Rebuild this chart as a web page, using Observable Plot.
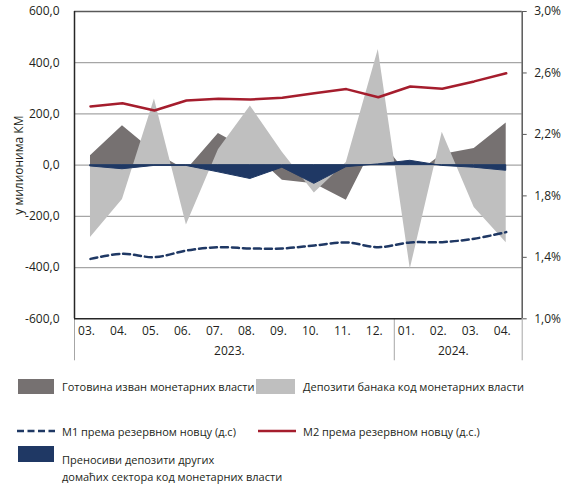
<!DOCTYPE html>
<html>
<head>
<meta charset="utf-8">
<script src="https://cdn.jsdelivr.net/npm/d3@7"></script>
<script src="https://cdn.jsdelivr.net/npm/@observablehq/plot@0.6"></script>
<style>
  html, body { margin: 0; padding: 0; background: #fff; }
  #wrap { position: relative; width: 563px; height: 484px; font-family: "Open Sans", sans-serif; color: #231f20; }
  .lg { position: absolute; font-size: 11px; line-height: 17px; white-space: nowrap; }
  .sw { position: absolute; }
</style>
</head>
<body>
<div id="wrap">
  <div id="chart"></div>
  <div class="sw" style="left:18px;top:379px;width:36px;height:15px;background:#767171"></div>
  <div class="lg" style="left:62px;top:378px">Готовина изван монетарних власти</div>
  <div class="sw" style="left:256px;top:379px;width:39px;height:15px;background:#bfbfbf"></div>
  <div class="lg" style="left:303px;top:378px">Депозити банака код монетарних власти</div>
  <svg class="sw" style="left:16px;top:426px" width="40" height="10"><line x1="1" x2="39" y1="5" y2="5" stroke="#1f3864" stroke-width="2.5" stroke-dasharray="7,3.5"/></svg>
  <div class="lg" style="left:62px;top:423px">М1 према резервном новцу (д.с)</div>
  <svg class="sw" style="left:257px;top:426px" width="40" height="10"><line x1="1" x2="39" y1="5" y2="5" stroke="#a51d2d" stroke-width="2.5"/></svg>
  <div class="lg" style="left:303px;top:423px">М2 према резервном новцу (д.с.)</div>
  <div class="sw" style="left:18px;top:446px;width:36px;height:16px;background:#1f3864"></div>
  <div class="lg" style="left:62px;top:451px">Преносиви депозити других<br>домаћих сектора код монетарних власти</div>
</div>
<script>
const months = ["03.","04.","05.","06.","07.","08.","09.","10.","11.","12.","01.","02.","03.","04."];
const years = ["2023.","2024."];
const cashOutside = [37,154,50,-20,124,55,-59,-73,-137,110,-50,42,65,165];
const bankDeposits = [-283,-134,258,-234,60,231,50,-109,10,452,-406,128,-165,-303];
const transferable = [-5,-16,-3,-3,-28,-54,-10,-73,-8,3,17,-3,-10,-22];
const m1 = [1.390,1.423,1.401,1.444,1.466,1.458,1.458,1.477,1.497,1.466,1.497,1.499,1.521,1.564];
const m2 = [2.382,2.403,2.356,2.421,2.432,2.427,2.438,2.468,2.495,2.442,2.512,2.497,2.545,2.598];
const leftTicks = [-600,-400,-200,0,200,400,600];
const rightTicks = [1.0,1.4,1.8,2.2,2.6,3.0];

const toLeft = v => -600 + (v - 1.0) * 600;
const fromLeft = d => 1.0 + (d + 600) / 600;

const data = months.map((m, i) => ({
  i, cash: cashOutside[i], bank: bankDeposits[i], tr: transferable[i],
  m1: toLeft(m1[i]), m2: toLeft(m2[i])
}));

const H = 366;
const chart = Plot.plot({
  width: 563,
  height: H,
  marginLeft: 74,
  marginRight: 41.3,
  marginTop: 11,
  marginBottom: H - 318.3,
  style: { fontFamily: "Open Sans, sans-serif", fontSize: "12px", color: "#231f20", background: "white", overflow: "visible" },
  x: { type: "linear", domain: [-0.5, 13.5] },
  y: { domain: [-600, 600] },
  marks: [
    Plot.gridY(leftTicks.filter(d => Math.abs(d) < 600), { stroke: "#a6a6a6", strokeOpacity: 1, strokeWidth: 1.2 }),
    Plot.areaY(data, { x: "i", y: "cash", fill: "#767171" }),
    Plot.areaY(data, { x: "i", y: "bank", fill: "#bfbfbf" }),
    Plot.areaY(data, { x: "i", y: "tr", fill: "#1f3864", stroke: "#1f3864", strokeWidth: 1 }),
    Plot.lineY(data, { x: "i", y: "m1", stroke: "#1f3864", strokeWidth: 2.5, strokeDasharray: "7,4", curve: "catmull-rom" }),
    Plot.lineY(data, { x: "i", y: "m2", stroke: "#a51d2d", strokeWidth: 2.5 }),
    Plot.axisX({ ticks: [-0.5, 9.5, 13.5], tickSize: 42, stroke: "#a6a6a6", tickFormat: () => "", label: null }),
    Plot.ruleY([600], { stroke: "#595959", strokeWidth: 1.5 }),
    Plot.ruleY([-600], { stroke: "#262626", strokeWidth: 1.5 }),
    Plot.ruleX([-0.5], { stroke: "#262626", strokeWidth: 1.5 }),
    Plot.ruleX([13.5], { stroke: "#595959", strokeWidth: 1.5 }),
    Plot.axisY({ ticks: leftTicks, tickSize: 0, tickPadding: 15,
      tickFormat: d => d.toFixed(1).replace(".", ","),
      label: "у милионима КМ", labelAnchor: "center", labelArrow: "none", labelOffset: 60 }),
    Plot.axisY({ anchor: "right", ticks: rightTicks.map(toLeft), tickSize: 4, tickPadding: 8, stroke: "#595959",
      tickFormat: d => fromLeft(d).toFixed(1).replace(".", ",") + "%", label: null }),
    Plot.axisX({ ticks: d3.range(months.length), tickSize: 0, tickPadding: 8, dx: -4,
      tickFormat: i => months[i], label: null }),
    Plot.axisX({ ticks: [4.5, 11.5], tickSize: 0, tickPadding: 28, dx: -5,
      tickFormat: v => v < 9.5 ? years[0] : years[1], label: null })
  ]
});
document.getElementById("chart").appendChild(chart);
</script>
</body>
</html>
